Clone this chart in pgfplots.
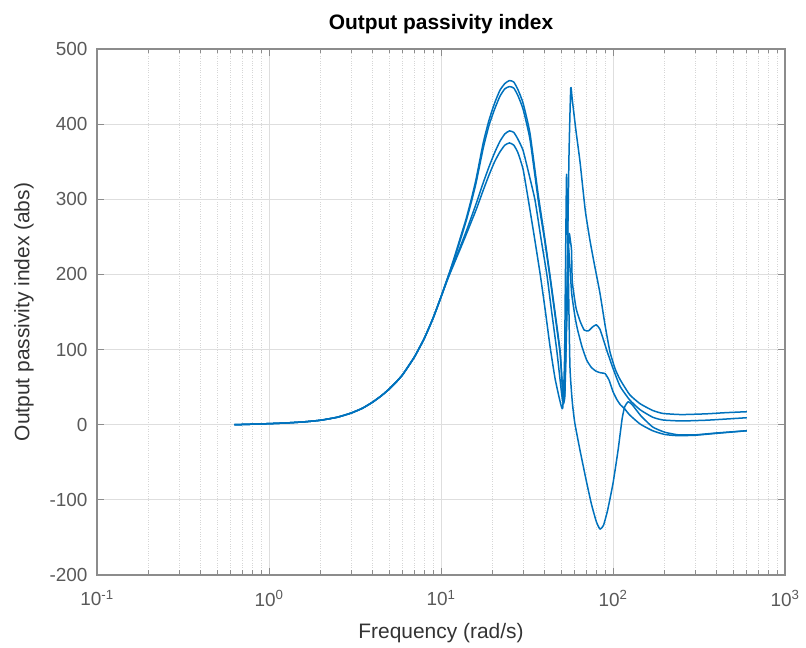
\documentclass[border=0pt]{standalone}
\usepackage{pgfplots}
\pgfplotsset{compat=1.18}
\usepackage{pgfplotstable}
\usepackage{fontspec}
\setmainfont{Liberation Sans}
\definecolor{mblue}{rgb}{0,0.447,0.741}
\definecolor{axgray}{rgb}{0.55,0.55,0.55}
\definecolor{lblgray}{rgb}{0.35,0.35,0.35}

\pgfplotstableread{
x y
0.63 0
0.8 0.7
1 1.4
1.25 2.3
1.6 3.8
2 6
2.5 10
3 15.5
3.5 22
4 30
4.5 38.5
5 47.5
5.5 57
6 67
7 90
8 115
9 142
10 170
11 197
12 224
13 250
14 274
15 300
16 327
17.6 375
19 405
20.5 428
22 445
23.5 454
25 458
26.5 456
28 446
30 428
32.9 388
36.8 305
40 250
43 199
46 150
49.2 99
50.5 60
51.5 32
52.5 45
54 180
55.5 360
56.8 448
58 432
61 390
64.3 350
69 285
73.5 245
78 213
84 175
90 132
96 97
103 74
110 60
125 40
143.6 28
170 19
195 15
250 13.5
350 14.5
450 16
600 17.3
}\curveA

\pgfplotstableread{
x y
0.63 0
0.8 0.7
1 1.4
1.25 2.3
1.6 3.8
2 6
2.5 10
3 15.5
3.5 22
4 30
4.5 38.5
5 47.5
5.5 57
6 67
7 90
8 115
9 142
10 170
11 197
12 222
13 247
14 271
15 296
16 322
17.6 368
19 398
20.5 420
22 437
23.5 447
25 450
26.5 448
28 438
30 420
32.9 380
36.8 298
40 246
43 196
46 146
49.2 96
50.5 58
51.3 28
52.5 40
54 150
55.5 252
56.5 245
57.4 232
58 190
61 155
64.3 138
68 126
72 125
76 130
80 133
84 127
88 113
92 99
100 75
110 51
125 33
143.6 20
170 10
195 6.3
250 5
350 6
450 7.5
600 9.3
}\curveB

\pgfplotstableread{
x y
0.63 0
0.8 0.7
1 1.4
1.25 2.3
1.6 3.8
2 6
2.5 10
3 15.5
3.5 22
4 30
4.5 38.5
5 47.5
5.5 57
6 67
7 90
8 115
9 142
10 170
11 197
12 218
13 238
14 257
15 276
16 294
17.6 322
19 343
20.5 362
22 377
23.5 387
25 391
26.5 389
28 380
30 365
32.5 333
35.2 299
38 250
41.3 199
44 150
47.1 99
49.5 55
51 32
52.5 60
54 170
55 235
56 215
57.5 175
60 145
62 128
66 104
70.3 86
75 76
80 71
85 69
90 68
95 59
100 44
105 34
110 27
117 21
125 13
143.6 1
170 -8
200 -13
240 -14.6
300 -14
400 -11.5
600 -8
}\curveC

\pgfplotstableread{
x y
0.63 0
0.8 0.7
1 1.4
1.25 2.3
1.6 3.8
2 6
2.5 10
3 15.5
3.5 22
4 30
4.5 38.5
5 47.5
5.5 57
6 67
7 90
8 115
9 142
10 170
11 195
12 216
13 235
14 253
15 270
16 286
17.6 312
19 332
20.5 350
22 363
23.5 372
25 375
26.5 372
28 362
30 340
32.2 299
35 248
37.8 199
40.5 150
43 105
46 62
49 33
51 22
52.3 90
53.7 333
55 200
56.2 77
58 30
60 2
64.3 -34
70 -75
75 -106
80 -129
84 -139
88 -134
93 -114
100 -78
107 -34
113 8
117 24
122.7 30.6
130 26
145 12
170 -3
200 -10
240 -13.5
300 -13.5
400 -11
600 -8
}\curveD

\begin{document}
\begin{tikzpicture}
\path[use as bounding box] (0,0) rectangle (806bp,648bp);
\begin{axis}[
  at={(97bp,73bp)}, anchor=south west,
  scale only axis, width=688bp, height=526bp,
  xmode=log, xmin=0.1, xmax=1000, ymin=-200, ymax=500,
  xtick={0.1,1,10,100,1000},
  xticklabels={10\textsuperscript{-1},10\textsuperscript{0},10\textsuperscript{1},10\textsuperscript{2},10\textsuperscript{3}},
  minor xtick={0.2,0.3,0.4,0.5,0.6,0.7,0.8,0.9,2,3,4,5,6,7,8,9,20,30,40,50,60,70,80,90,200,300,400,500,600,700,800,900},
  ytick={-200,-100,0,100,200,300,400,500},
  yticklabels={-200,-100,0,100,200,300,400,500},
  xmajorgrids, xminorgrids, ymajorgrids,
  major grid style={color=black!13, line width=0.8bp},
  minor grid style={color=black!16, dotted, line width=0.7bp},
  tick align=inside, major tick length=7bp, minor tick length=4.5bp,
  axis line style={color=axgray, line width=1.1bp},
  every tick/.style={color=axgray, line width=0.8bp},
  tick label style={font=\fontsize{19}{22}\selectfont, color=lblgray},
  yticklabel style={xshift=-6bp},
  xticklabel style={yshift=-12bp},
  title={\textbf{Output passivity index}},
  title style={at={(0.5,1.036)}, anchor=center, font=\fontsize{21}{24}\selectfont, color=black},
  xlabel={Frequency (rad/s)},
  xlabel style={at={(0.5,-0.11)}, anchor=center, font=\fontsize{21}{24}\selectfont, color=black!80},
  ylabel={Output passivity index (abs)},
  ylabel style={at={(-0.106,0.5)}, anchor=center, rotate=0, font=\fontsize{21}{24}\selectfont, color=black!80},
  clip=true,
]
\addplot[mblue, line width=1.5bp, line join=round, smooth, tension=0.3] table[x=x,y=y] {\curveA};
\addplot[mblue, line width=1.5bp, line join=round, smooth, tension=0.3] table[x=x,y=y] {\curveB};
\addplot[mblue, line width=1.5bp, line join=round, smooth, tension=0.3] table[x=x,y=y] {\curveC};
\addplot[mblue, line width=1.5bp, line join=round, smooth, tension=0.3] table[x=x,y=y] {\curveD};
\end{axis}
\end{tikzpicture}
\end{document}
